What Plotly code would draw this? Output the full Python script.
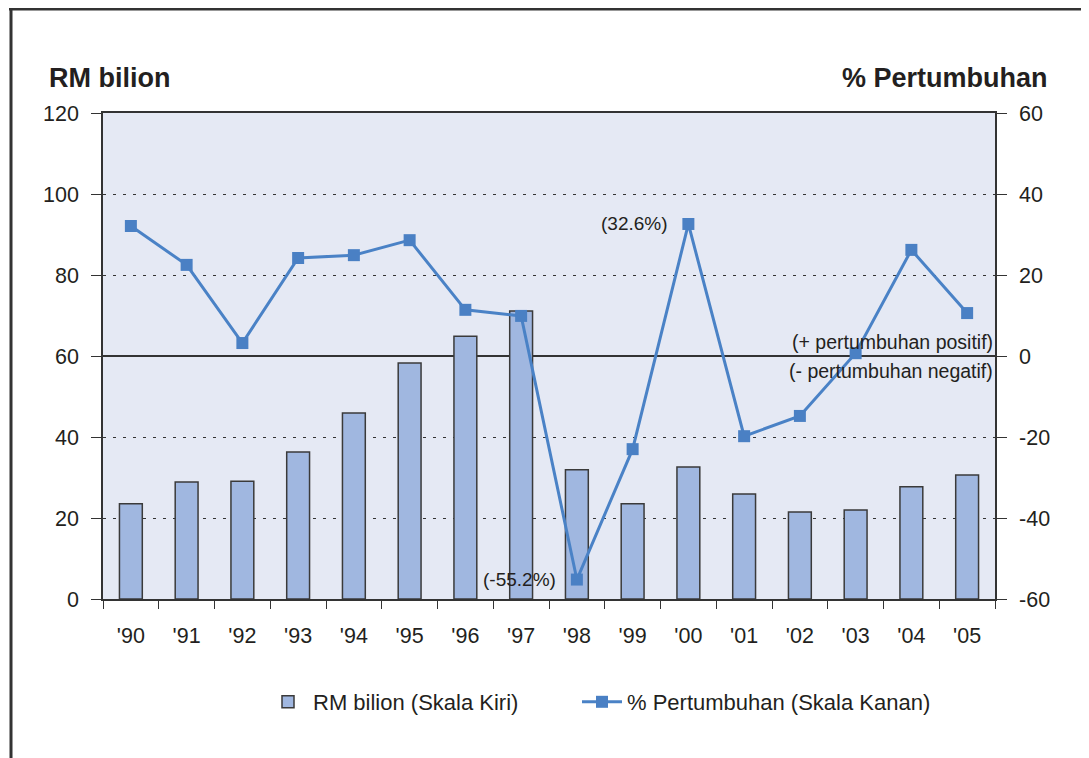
import plotly.graph_objects as go

years = ["'90", "'91", "'92", "'93", "'94", "'95", "'96", "'97",
         "'98", "'99", "'00", "'01", "'02", "'03", "'04", "'05"]
rm_bilion = [23.5, 28.9, 29.1, 36.3, 45.9, 58.3, 64.9, 71.1,
             31.9, 23.5, 32.6, 25.9, 21.5, 22.0, 27.7, 30.6]
pertumbuhan = [32.1, 22.5, 3.2, 24.2, 24.9, 28.6, 11.4, 9.9,
               -55.2, -23.0, 32.6, -19.8, -14.8, 0.7, 26.2, 10.6]
left_ticks = [0, 20, 40, 60, 80, 100, 120]
right_ticks = [-60, -40, -20, 0, 20, 40, 60]
right_tick_text = ["-60", "-40", "-20", "0", "20", "40", "60"]

FONT = "Liberation Sans, Arial, sans-serif"
TXT = "#231f20"

# page has an 8px body margin; figure is sized/offset to compensate
W, H = 1081, 750
L, T = 95, 105
PW, PH = 892, 486
px = lambda p: (p - 8 - L) / PW
py = lambda p: (T + PH - (p - 8)) / PH

fig = go.Figure()
fig.add_trace(go.Bar(
    x=years, y=rm_bilion, name="RM bilion (Skala Kiri)",
    marker=dict(color="#a0b7e0", line=dict(color="#3a3a3a", width=1.5)),
    width=0.41, yaxis="y", legend="legend",
))
fig.add_trace(go.Scatter(
    x=years, y=pertumbuhan, name="% Pertumbuhan (Skala Kanan)",
    mode="lines+markers", yaxis="y2", legend="legend2",
    line=dict(color="#4a82c6", width=3),
    marker=dict(symbol="square", size=12, color="#4a80c4"),
))

leg_common = dict(orientation="h", xanchor="left", yanchor="middle",
                  font=dict(size=22, color=TXT), bgcolor="rgba(0,0,0,0)",
                  itemwidth=40)

fig.update_layout(
    width=W, height=H,
    margin=dict(l=L, r=W - L - PW, t=T, b=H - T - PH),
    paper_bgcolor="white", plot_bgcolor="#e5e9f4",
    font=dict(family=FONT, size=21, color=TXT),
    showlegend=True,
    legend=dict(x=px(263), y=py(702), **leg_common),
    legend2=dict(x=px(577), y=py(702), **leg_common),
    xaxis=dict(type="category", range=[-0.5, 15.5], tickson="boundaries",
               ticks="outside", ticklen=8,
               tickcolor="#333", showline=True, linecolor="#333", linewidth=1.5,
               mirror=True, showgrid=False, ticklabelstandoff=16,
               tickfont=dict(size=21.5, color=TXT)),
    yaxis=dict(range=[0, 120], tickvals=left_ticks, ticks="outside", ticklen=10,
               tickcolor="#333", showline=True, linecolor="#333", linewidth=1.5,
               showgrid=True, gridcolor="#333", griddash="3px,7px", gridwidth=1,
               zeroline=False, ticklabelstandoff=8, tickfont=dict(size=21.5, color=TXT)),
    yaxis2=dict(range=[-60, 60], tickvals=right_ticks, ticktext=right_tick_text,
                overlaying="y", side="right",
                ticks="outside", ticklen=10, tickcolor="#333", showline=True,
                linecolor="#333", linewidth=1.5, showgrid=False,
                zeroline=True, zerolinecolor="#333", zerolinewidth=1.5,
                ticklabelstandoff=8, tickfont=dict(size=21.5, color=TXT)),
    bargap=0.59,
)

annotations = [
    dict(text="<b>RM bilion</b>", xref="paper", yref="paper", x=-0.063, y=1.072,
         xanchor="left", yanchor="middle", showarrow=False, font=dict(size=27, color=TXT)),
    dict(text="<b>% Pertumbuhan</b>", xref="paper", yref="paper", x=1.062, y=1.072,
         xanchor="right", yanchor="middle", showarrow=False, font=dict(size=27, color=TXT)),
    dict(text="(32.6%)", xref="x", yref="y2", x="'00", y=pertumbuhan[10], xshift=-18,
         xanchor="right", yanchor="middle", showarrow=False, font=dict(size=19, color=TXT)),
    dict(text="(-55.2%)", xref="x", yref="y2", x="'98", y=pertumbuhan[8], xshift=-19,
         xanchor="right", yanchor="middle", showarrow=False, font=dict(size=19, color=TXT)),
    dict(text="(+ pertumbuhan positif)", xref="paper", yref="y2", x=1.0, y=0, yshift=14,
         xanchor="right", yanchor="middle", showarrow=False, font=dict(size=19.5, color=TXT)),
    dict(text="(- pertumbuhan negatif)", xref="paper", yref="y2", x=1.0, y=0, yshift=-15,
         xanchor="right", yanchor="middle", showarrow=False, font=dict(size=19.5, color=TXT)),
]
fig.update_layout(annotations=annotations)

# outer frame (top and left edges visible in the reference), screen pixel coords
fig.add_shape(type="line", xref="paper", yref="paper", x0=px(9), x1=px(1100),
              y0=py(9), y1=py(9), line=dict(color="#333", width=3))
fig.add_shape(type="line", xref="paper", yref="paper", x0=px(11), x1=px(11),
              y0=py(8), y1=py(770), line=dict(color="#333", width=3))

fig.write_html("out.html")
